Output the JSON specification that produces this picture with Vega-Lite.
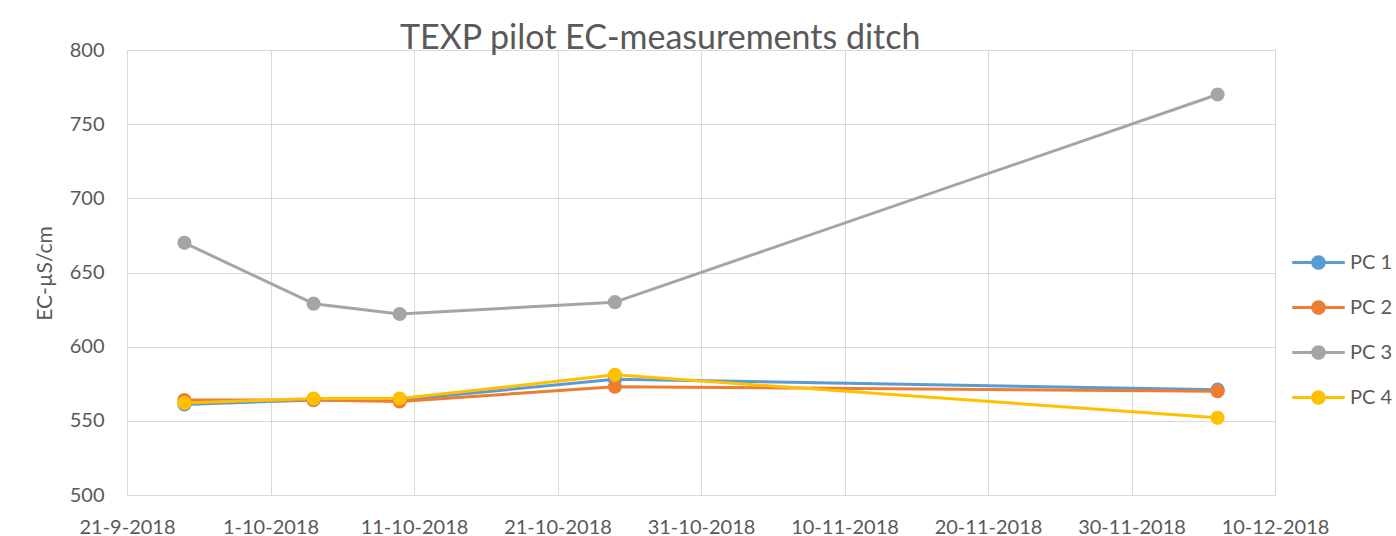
{
  "$schema": "https://vega.github.io/schema/vega-lite/v6.json",
  "width": 1148,
  "height": 445,
  "autosize": {"type": "none"},
  "padding": {"left": 127, "top": 50, "right": 121, "bottom": 41},
  "background": "white",
  "title": {
    "text": "TEXP pilot EC-measurements ditch",
    "anchor": "start",
    "frame": "group",
    "dx": 273,
    "offset": 0,
    "dy": 43,
    "baseline": "alphabetic",
    "font": "Lato",
    "fontSize": 34,
    "fontWeight": "normal",
    "color": "#595959"
  },
  "config": {
    "view": {"stroke": "#D9D9D9"},
    "font": "Lato",
    "axis": {
      "labelFont": "Lato",
      "labelFontSize": 20,
      "labelColor": "#595959",
      "gridColor": "#D9D9D9",
      "gridWidth": 1,
      "ticks": false,
      "domain": false,
      "titleFont": "Lato",
      "titleFontSize": 21,
      "titleFontWeight": "normal",
      "titleColor": "#595959"
    },
    "legend": {
      "labelFont": "Lato",
      "labelFontSize": 20,
      "labelColor": "#595959"
    }
  },
  "data": {
    "values": [
      {"date": "2018-09-25", "series": "PC 1", "ec": 561},
      {"date": "2018-10-04", "series": "PC 1", "ec": 564},
      {"date": "2018-10-10", "series": "PC 1", "ec": 564},
      {"date": "2018-10-25", "series": "PC 1", "ec": 578},
      {"date": "2018-12-06", "series": "PC 1", "ec": 571},
      {"date": "2018-09-25", "series": "PC 2", "ec": 564},
      {"date": "2018-10-04", "series": "PC 2", "ec": 564},
      {"date": "2018-10-10", "series": "PC 2", "ec": 563},
      {"date": "2018-10-25", "series": "PC 2", "ec": 573},
      {"date": "2018-12-06", "series": "PC 2", "ec": 570},
      {"date": "2018-09-25", "series": "PC 3", "ec": 670},
      {"date": "2018-10-04", "series": "PC 3", "ec": 629},
      {"date": "2018-10-10", "series": "PC 3", "ec": 622},
      {"date": "2018-10-25", "series": "PC 3", "ec": 630},
      {"date": "2018-12-06", "series": "PC 3", "ec": 770},
      {"date": "2018-09-25", "series": "PC 4", "ec": 562},
      {"date": "2018-10-04", "series": "PC 4", "ec": 565},
      {"date": "2018-10-10", "series": "PC 4", "ec": 565},
      {"date": "2018-10-25", "series": "PC 4", "ec": 581},
      {"date": "2018-12-06", "series": "PC 4", "ec": 552}
    ]
  },
  "encoding": {
    "x": {
      "field": "date",
      "type": "temporal",
      "scale": {
        "type": "utc",
        "domain": [
          {"year": 2018, "month": 9, "date": 21, "utc": true},
          {"year": 2018, "month": 12, "date": 10, "utc": true}
        ],
        "nice": false
      },
      "axis": {
        "title": null,
        "labelExpr": "utcFormat(datum.value, '%-d-%-m-%Y')",
        "labelPadding": 22,
        "labelOverlap": false,
        "labelFlush": false,
        "values": [
          {"year": 2018, "month": 9, "date": 21, "utc": true},
          {"year": 2018, "month": 10, "date": 1, "utc": true},
          {"year": 2018, "month": 10, "date": 11, "utc": true},
          {"year": 2018, "month": 10, "date": 21, "utc": true},
          {"year": 2018, "month": 10, "date": 31, "utc": true},
          {"year": 2018, "month": 11, "date": 10, "utc": true},
          {"year": 2018, "month": 11, "date": 20, "utc": true},
          {"year": 2018, "month": 11, "date": 30, "utc": true},
          {"year": 2018, "month": 12, "date": 10, "utc": true}
        ]
      }
    },
    "y": {
      "field": "ec",
      "type": "quantitative",
      "scale": {"domain": [500, 800], "nice": false, "zero": false},
      "axis": {
        "title": "EC-µS/cm",
        "values": [500, 550, 600, 650, 700, 750, 800],
        "labelPadding": 23,
        "titleX": -76,
        "titleY": 223,
        "titleAngle": -90,
        "titleAlign": "center",
        "titleBaseline": "alphabetic"
      }
    },
    "color": {
      "field": "series",
      "type": "nominal",
      "scale": {
        "domain": ["PC 1", "PC 2", "PC 3", "PC 4"],
        "range": ["#5B9BD5", "#ED7D31", "#A5A5A5", "#FFC000"]
      },
      "legend": {
        "title": null,
        "orient": "none",
        "legendX": 1174,
        "legendY": 195,
        "padding": 0,
        "rowPadding": 17,
        "labelOffset": 14,
        "symbolSize": 1225,
        "symbolType": "M-1.5,-0.086H1.5V0.086H-1.5Z M0.417,0A0.417,0.417 0 1,1 -0.417,0A0.417,0.417 0 1,1 0.417,0Z",
        "symbolStrokeWidth": 0,
        "symbolOpacity": 1,
        "encode": {
          "symbols": {
            "update": {
              "fill": {"scale": "color", "field": "value"},
              "stroke": {"value": "transparent"},
              "opacity": {"value": 1}
            }
          }
        }
      }
    },
    "order": {"field": "series"}
  },
  "layer": [
    {"mark": {"type": "line", "strokeWidth": 3, "strokeCap": "round", "strokeJoin": "round"}},
    {"mark": {"type": "point", "filled": true, "size": 200, "opacity": 1}}
  ]
}
